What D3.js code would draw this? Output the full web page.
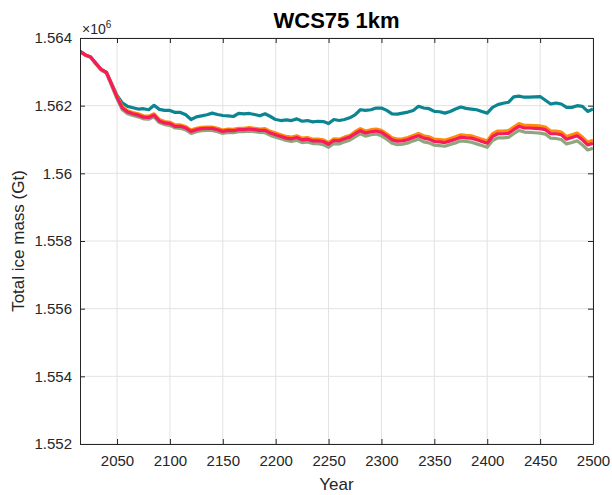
<!DOCTYPE html>
<html>
<head>
<meta charset="utf-8">
<script src="https://cdn.jsdelivr.net/npm/d3@7"></script>
<style>
	body { margin: 0; background: #fff; }
	svg { display: block; font-family: 'Liberation Sans', Arial, sans-serif; }
</style>
</head>
<body>
<svg id="chart" width="612" height="495"></svg>
<script>
// years sampled every 5 years, values in units of 1e6 Gt
const years = d3.range(2015, 2501, 5);

const teal = [
	1.56361, 1.56350, 1.56344, 1.56325, 1.56307, 1.56298, 1.56264, 1.56230, 1.56208, 1.56198,
	1.56194, 1.56190, 1.56191, 1.56188, 1.56201, 1.56189, 1.56186, 1.56186, 1.56180, 1.56180,
	1.56173, 1.56159, 1.56167, 1.56170, 1.56173, 1.56178, 1.56174, 1.56171, 1.56170, 1.56168,
	1.56177, 1.56176, 1.56177, 1.56174, 1.56170, 1.56176, 1.56168, 1.56159, 1.56156, 1.56158,
	1.56156, 1.56161, 1.56154, 1.56156, 1.56152, 1.56154, 1.56153, 1.56147, 1.56159, 1.56156,
	1.56159, 1.56164, 1.56173, 1.56188, 1.56186, 1.56188, 1.56193, 1.56193, 1.56186, 1.56176,
	1.56175, 1.56178, 1.56181, 1.56186, 1.56198, 1.56193, 1.56191, 1.56183, 1.56182, 1.56178,
	1.56183, 1.56190, 1.56196, 1.56192, 1.56190, 1.56188, 1.56183, 1.56178, 1.56195, 1.56203,
	1.56207, 1.56210, 1.56226, 1.56228, 1.56225, 1.56225, 1.56226, 1.56227, 1.56216, 1.56205,
	1.56208, 1.56205, 1.56195, 1.56195, 1.56200, 1.56198, 1.56183, 1.56190
];

const green = [
	1.56360, 1.56349, 1.56343, 1.56323, 1.56305, 1.56296, 1.56258, 1.56220, 1.56188, 1.56176,
	1.56171, 1.56167, 1.56161, 1.56160, 1.56167, 1.56150, 1.56144, 1.56142, 1.56134, 1.56133,
	1.56128, 1.56118, 1.56123, 1.56126, 1.56127, 1.56127, 1.56123, 1.56118, 1.56121, 1.56120,
	1.56123, 1.56123, 1.56125, 1.56123, 1.56121, 1.56120, 1.56112, 1.56107, 1.56102, 1.56097,
	1.56094, 1.56098, 1.56091, 1.56093, 1.56088, 1.56088, 1.56085, 1.56077, 1.56088, 1.56087,
	1.56093, 1.56098, 1.56108, 1.56117, 1.56110, 1.56114, 1.56116, 1.56111, 1.56101, 1.56089,
	1.56085, 1.56086, 1.56090, 1.56096, 1.56101, 1.56093, 1.56090, 1.56083, 1.56082, 1.56080,
	1.56085, 1.56090, 1.56096, 1.56094, 1.56092, 1.56087, 1.56082, 1.56077, 1.56097, 1.56105,
	1.56105, 1.56106, 1.56117, 1.56127, 1.56122, 1.56121, 1.56120, 1.56119, 1.56116, 1.56104,
	1.56103, 1.56100, 1.56087, 1.56091, 1.56096, 1.56084, 1.56069, 1.56074
];

const orange = [
	1.56361, 1.56350, 1.56344, 1.56325, 1.56307, 1.56298, 1.56263, 1.56228, 1.56197, 1.56185,
	1.56180, 1.56176, 1.56170, 1.56169, 1.56176, 1.56159, 1.56153, 1.56151, 1.56143, 1.56143,
	1.56138, 1.56128, 1.56133, 1.56136, 1.56137, 1.56137, 1.56133, 1.56128, 1.56131, 1.56130,
	1.56133, 1.56133, 1.56135, 1.56133, 1.56131, 1.56132, 1.56124, 1.56119, 1.56114, 1.56109,
	1.56107, 1.56111, 1.56104, 1.56106, 1.56101, 1.56101, 1.56099, 1.56091, 1.56102, 1.56101,
	1.56107, 1.56112, 1.56123, 1.56132, 1.56125, 1.56129, 1.56131, 1.56127, 1.56117, 1.56105,
	1.56101, 1.56102, 1.56106, 1.56112, 1.56118, 1.56111, 1.56108, 1.56101, 1.56100, 1.56098,
	1.56103, 1.56108, 1.56114, 1.56112, 1.56111, 1.56106, 1.56101, 1.56096, 1.56117, 1.56125,
	1.56125, 1.56126, 1.56137, 1.56147, 1.56142, 1.56142, 1.56141, 1.56140, 1.56137, 1.56125,
	1.56125, 1.56122, 1.56109, 1.56114, 1.56119, 1.56107, 1.56092, 1.56098
];

const red = [
	1.56361, 1.56350, 1.56344, 1.56325, 1.56307, 1.56298, 1.56262, 1.56225, 1.56193, 1.56181,
	1.56176, 1.56172, 1.56166, 1.56165, 1.56172, 1.56155, 1.56149, 1.56147, 1.56139, 1.56139,
	1.56134, 1.56124, 1.56129, 1.56132, 1.56133, 1.56133, 1.56129, 1.56124, 1.56127, 1.56126,
	1.56129, 1.56129, 1.56131, 1.56129, 1.56127, 1.56127, 1.56119, 1.56114, 1.56109, 1.56104,
	1.56102, 1.56106, 1.56099, 1.56101, 1.56096, 1.56096, 1.56094, 1.56086, 1.56097, 1.56096,
	1.56102, 1.56107, 1.56117, 1.56126, 1.56119, 1.56123, 1.56125, 1.56121, 1.56111, 1.56099,
	1.56095, 1.56096, 1.56100, 1.56106, 1.56111, 1.56104, 1.56101, 1.56094, 1.56093, 1.56091,
	1.56096, 1.56101, 1.56107, 1.56105, 1.56104, 1.56099, 1.56094, 1.56089, 1.56109, 1.56117,
	1.56117, 1.56118, 1.56129, 1.56139, 1.56134, 1.56134, 1.56133, 1.56132, 1.56129, 1.56117,
	1.56117, 1.56114, 1.56101, 1.56106, 1.56111, 1.56099, 1.56084, 1.56089
];

const xTicks = [2050, 2100, 2150, 2200, 2250, 2300, 2350, 2400, 2450, 2500];
const yTicks = [1.552, 1.554, 1.556, 1.558, 1.56, 1.562, 1.564];

const series = [
	{ name: 'teal', values: teal, color: '#0b8592' },
	{ name: 'green', values: green, color: '#8ea77c' },
	{ name: 'orange', values: orange, color: '#ff8b0a' },
	{ name: 'red', values: red, color: '#f71a5c' }
];

const margin = { left: 80, right: 19, top: 38, bottom: 51 };
const width = 612 - margin.left - margin.right;
const height = 495 - margin.top - margin.bottom;
const axisColor = '#262626';

const svg = d3.select('#chart');
const g = svg.append('g')
	.attr('transform', 'translate(' + margin.left + ',' + margin.top + ')');

const x = d3.scaleLinear([2015, 2500], [0, width]);
const y = d3.scaleLinear([1.552, 1.564], [height, 0]);

// grid
g.append('g')
	.selectAll('line')
	.data(xTicks)
	.enter().append('line')
	.attr('x1', (d) => x(d)).attr('x2', (d) => x(d))
	.attr('y1', 0).attr('y2', height)
	.attr('stroke', '#e2e2e2').attr('stroke-width', 1);
g.append('g')
	.selectAll('line')
	.data(yTicks)
	.enter().append('line')
	.attr('x1', 0).attr('x2', width)
	.attr('y1', (d) => y(d)).attr('y2', (d) => y(d))
	.attr('stroke', '#e2e2e2').attr('stroke-width', 1);

// lines
const line = d3.line()
	.x((d, i) => x(years[i]))
	.y((d) => y(d));

svg.append('clipPath').attr('id', 'clip')
	.append('rect').attr('width', width).attr('height', height);

g.append('g')
	.attr('clip-path', 'url(#clip)')
	.selectAll('path')
	.data(series)
	.enter().append('path')
	.attr('fill', 'none')
	.attr('stroke', (d) => d.color)
	.attr('stroke-width', 3.2)
	.attr('stroke-linejoin', 'round')
	.attr('d', (d) => line(d.values));

// axes (ticks inside, box on)
function styleAxis(sel) {
	sel.select('.domain').attr('stroke', axisColor);
	sel.selectAll('.tick line').attr('stroke', axisColor);
	sel.selectAll('.tick text')
		.attr('fill', axisColor)
		.style('font-size', '15px')
		.style('font-family', "'Liberation Sans', Arial, sans-serif");
}

g.append('g')
	.attr('transform', 'translate(0,' + height + ')')
	.call(d3.axisBottom(x).tickValues(xTicks).tickFormat(d3.format('d')).tickSizeInner(-5).tickSizeOuter(0).tickPadding(11))
	.call(styleAxis);

g.append('g')
	.call(d3.axisTop(x).tickValues(xTicks).tickFormat('').tickSizeInner(-5).tickSizeOuter(0))
	.call(styleAxis);

g.append('g')
	.call(d3.axisLeft(y).tickValues(yTicks).tickFormat((d) => String(+d.toFixed(3))).tickSizeInner(-5).tickSizeOuter(0).tickPadding(8))
	.call(styleAxis);

g.append('g')
	.attr('transform', 'translate(' + width + ',0)')
	.call(d3.axisRight(y).tickValues(yTicks).tickFormat('').tickSizeInner(-5).tickSizeOuter(0))
	.call(styleAxis);

// exponent label
const expo = g.append('text')
	.attr('x', 2)
	.attr('y', -4)
	.attr('fill', axisColor)
	.style('font-size', '14px');
expo.append('tspan').text('\u00d710');
expo.append('tspan').attr('dy', -6).style('font-size', '10px').text('6');

// title
svg.append('text')
	.attr('x', margin.left + width / 2)
	.attr('y', 28)
	.attr('text-anchor', 'middle')
	.attr('fill', '#000')
	.style('font-size', '22px')
	.style('font-weight', 'bold')
	.text('WCS75 1km');

// axis labels
svg.append('text')
	.attr('x', margin.left + width / 2)
	.attr('y', 490)
	.attr('text-anchor', 'middle')
	.attr('fill', axisColor)
	.style('font-size', '17px')
	.text('Year');

svg.append('text')
	.attr('transform', 'translate(24,' + (margin.top + height / 2) + ') rotate(-90)')
	.attr('text-anchor', 'middle')
	.attr('fill', axisColor)
	.style('font-size', '17px')
	.text('Total ice mass (Gt)');
</script>
</body>
</html>
